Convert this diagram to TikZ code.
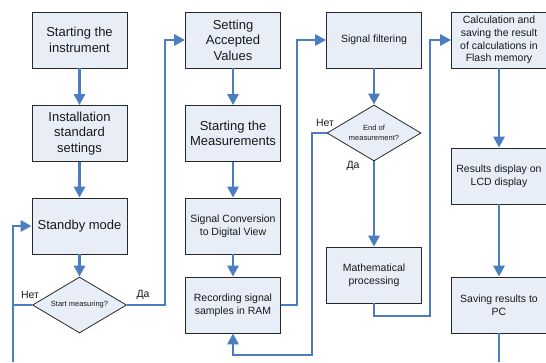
\documentclass[tikz,border=0pt]{standalone}
\usepackage{fontspec}
\setmainfont{Liberation Sans}
\usetikzlibrary{arrows.meta,shapes.geometric}
\definecolor{flow}{RGB}{74,126,193}
\definecolor{boxfill}{RGB}{232,238,247}
\definecolor{boxline}{RGB}{40,40,40}
\definecolor{ink}{RGB}{25,25,25}
\begin{document}
\begin{tikzpicture}[x=1pt,y=-1pt,
  box/.style={draw=boxline, line width=0.8pt, fill=boxfill,
    minimum width=95pt, minimum height=56pt, inner sep=2pt,
    align=center, text=ink, font=\fontsize{13}{15.5}\selectfont},
  smallbox/.style={box, font=\fontsize{10.5}{12.7}\selectfont},
  decision/.style={diamond, shape aspect=1.68, draw=boxline, line width=0.8pt,
    fill=boxfill, minimum width=94pt, minimum height=56pt, inner sep=0pt,
    align=center, text=ink, font=\fontsize{7.5}{9.5}\selectfont},
  flowline/.style={draw=flow, line width=2.8pt},
  arr/.style={flowline, -{Triangle[length=11pt,width=11pt]}},
  lbl/.style={text=ink, font=\fontsize{10.5}{12}\selectfont, inner sep=0pt}
]
\useasboundingbox (0,0) rectangle (546,362);

% first column: start-up and waiting
\node[box] (start) at (79.5,40) {Starting the\\instrument};
\node[box] (setup) at (79.5,133.5) {Installation\\standard\\settings};
\node[box] (standby) at (79.5,226) {Standby mode};
\node[decision] (startq) at (79.5,305) {Start measuring?};

% second column: acquisition
\node[box] (accept) at (233,40) {Setting\\Accepted\\Values};
\node[box] (meas) at (233,133.5) {Starting the\\Measurements};
\node[smallbox] (conv) at (233,226) {Signal Conversion\\to Digital View};
\node[smallbox] (ram) at (233,305) {Recording signal\\samples in RAM};

% third column: filtering and processing
\node[smallbox] (filt) at (374,40) {Signal filtering};
\node[decision] (endq) at (374,133) {End of\\measurement?};
\node[smallbox] (math) at (374,275) {Mathematical\\processing};

% fourth column: results
\node[smallbox] (calc) at (499,40) {Calculation and\\saving the result\\of calculations in\\Flash memory};
\node[smallbox] (lcd) at (499,176) {Results display on\\LCD display};
\node[smallbox] (pc) at (499,305) {Saving results to\\PC};

% routing points
\coordinate (loopL) at (13,362);
\coordinate (retR) at (312,355);
\coordinate (retM) at (430,316);
\coordinate (pcOut) at (499,362);

% connectors
\draw[arr] (start) -- (setup);
\draw[arr] (setup) -- (standby);
\draw[arr] (standby) -- (startq);
\draw[flowline] (startq.west) -- (startq.west -| loopL);
\draw[arr] (loopL) |- (standby.west);
\draw[arr] (startq.east) -- ++(38,0) |- (accept.west);

\draw[arr] (accept) -- (meas);
\draw[arr] (meas) -- (conv);
\draw[arr] (conv) -- (ram);
\draw[arr] (ram.east) -- ++(16,0) |- (filt.west);

\draw[arr] (filt) -- (endq);
\draw[arr] (endq.west) -| (retR) -| (ram.south);
\draw[arr] (endq) -- (math);
\draw[arr] (math.south) |- (retM) |- (calc.west);

\draw[arr] (calc) -- (lcd);
\draw[arr] (lcd) -- (pc);
\draw[flowline] (pc) -- (pcOut);

% branch labels
\node[lbl] (no1) at (30,295) {Нет};
\node[lbl] (yes1) at (143,295) {Да};
\node[lbl] (no2) at (325,123) {Нет};
\node[lbl] (yes2) at (353,166) {Да};
\end{tikzpicture}
\end{document}
